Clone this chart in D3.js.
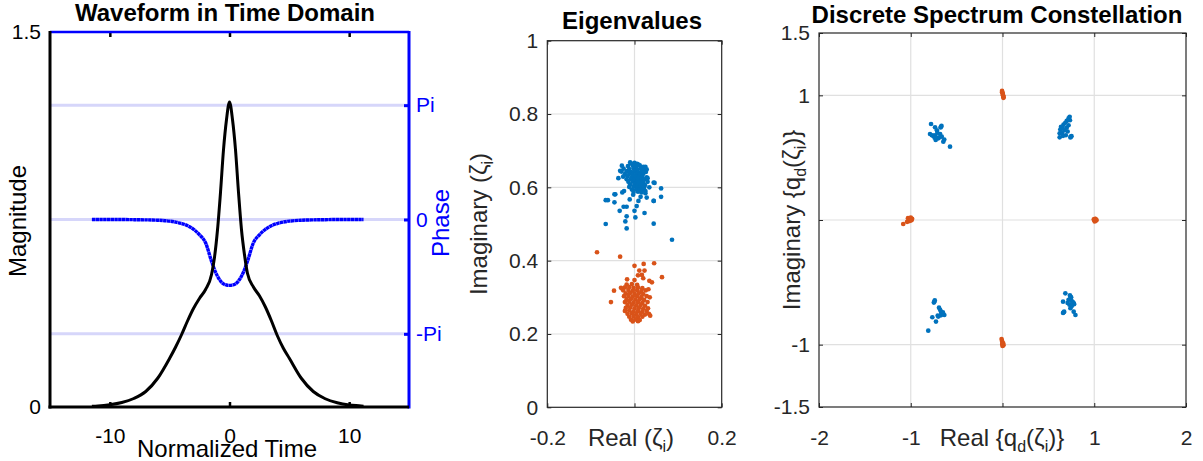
<!DOCTYPE html>
<html><head><meta charset="utf-8">
<script src="https://cdn.jsdelivr.net/npm/d3@7"></script>
<style>
body{margin:0;background:#fff;}
svg{display:block;font-family:"Liberation Sans",Arial,sans-serif;}
</style></head><body>
<script>
// ---------- Panel 1 data ----------
const timeT = [-11.5,-11,-10,-9,-8,-7,-6,-5,-4.5,-4,-3.5,-3,-2.5,-2,-1.5,-1.25,-1,-0.75,-0.5,-0.25,0,0.25,0.5,0.75,1,1.25,1.5,2,2.5,3,3.5,4,4.5,5,6,7,8,9,10,11,11.2];
const magnitude = [0.003,0.004,0.009,0.018,0.034,0.062,0.115,0.195,0.24,0.29,0.345,0.395,0.435,0.47,0.53,0.6,0.71,0.86,1.03,1.15,1.22,1.15,1.03,0.86,0.71,0.61,0.535,0.48,0.445,0.40,0.345,0.285,0.235,0.195,0.115,0.062,0.033,0.017,0.008,0.004,0.003];
const phase = [0,0,0,0,-0.005,-0.01,-0.02,-0.045,-0.07,-0.11,-0.17,-0.27,-0.42,-0.64,-1.15,-1.38,-1.56,-1.69,-1.77,-1.80,-1.81,-1.80,-1.77,-1.69,-1.56,-1.38,-1.15,-0.64,-0.42,-0.27,-0.17,-0.11,-0.07,-0.045,-0.02,-0.01,-0.005,0,0,0,0];
const timeTicks = [-10,0,10];
const magTicks = [0,1.5];
const phaseTicks = [Math.PI,0,-Math.PI];
const phaseTickLabels = ["Pi","0","-Pi"];

// ---------- Panel 2 data (eigenvalues: [real, imag]) ----------
const eigBlue = [
[-0.008,0.665],[0.000,0.667],[0.006,0.664],
[-0.015,0.658],[-0.004,0.659],[0.004,0.657],[0.012,0.660],[0.020,0.656],
[-0.025,0.651],[-0.012,0.650],[-0.002,0.652],[0.006,0.649],[0.014,0.651],[0.022,0.648],
[-0.030,0.643],[-0.018,0.644],[-0.008,0.642],[0.000,0.644],[0.008,0.641],[0.016,0.643],[0.026,0.642],
[-0.022,0.636],[-0.012,0.637],[-0.004,0.635],[0.004,0.636],[0.012,0.634],[0.020,0.637],
[-0.026,0.629],[-0.016,0.630],[-0.006,0.628],[0.002,0.630],[0.010,0.628],[0.018,0.629],[0.028,0.627],
[-0.018,0.622],[-0.008,0.623],[0.000,0.621],[0.008,0.622],[0.016,0.620],[0.024,0.622],
[-0.014,0.615],[-0.004,0.616],[0.004,0.614],[0.012,0.615],[0.020,0.613],[0.030,0.615],
[-0.010,0.608],[0.000,0.609],[0.008,0.607],[0.016,0.608],[0.024,0.606],
[-0.012,0.601],[-0.002,0.602],[0.006,0.600],[0.014,0.601],[0.022,0.599],
[-0.006,0.594],[0.004,0.595],[0.012,0.593],[0.020,0.594],
[-0.002,0.587],[0.008,0.588],[0.016,0.586],
[-0.066,0.500],[0.086,0.457],[0.044,0.501],[-0.018,0.488],[-0.021,0.507],[-0.018,0.521],
[0.002,0.518],[0.023,0.530],[-0.034,0.536],[-0.061,0.565],[-0.046,0.559],[-0.044,0.581],
[-0.028,0.586],[-0.025,0.547],[-0.018,0.547],[-0.011,0.567],[0.000,0.536],[0.005,0.549],
[0.009,0.563],[0.014,0.574],[0.028,0.572],[0.044,0.563],[0.061,0.574],[0.061,0.597],
[0.046,0.612],[0.034,0.600],[0.025,0.590],[0.030,0.625],[0.028,0.649],[0.025,0.656],
[-0.029,0.659],[-0.033,0.645],[-0.037,0.625],[-0.010,0.668],[0.009,0.662],[-0.024,0.590],
[-0.003,0.580],[0.025,0.584],[-0.066,0.565],[-0.046,0.581],[0.044,0.613],[0.044,0.563]
];
const eigOrange = [
[-0.018,0.335],[-0.006,0.336],[0.006,0.334],
[-0.022,0.327],[-0.012,0.328],[-0.002,0.326],[0.008,0.327],[0.018,0.325],
[-0.026,0.319],[-0.014,0.320],[-0.004,0.318],[0.006,0.319],[0.016,0.317],[0.026,0.319],
[-0.020,0.311],[-0.010,0.312],[0.000,0.310],[0.010,0.311],[0.020,0.309],
[-0.024,0.303],[-0.014,0.304],[-0.004,0.302],[0.006,0.303],[0.016,0.301],[0.028,0.303],
[-0.018,0.295],[-0.008,0.296],[0.002,0.294],[0.012,0.295],[0.022,0.293],
[-0.022,0.287],[-0.012,0.288],[-0.002,0.286],[0.008,0.287],[0.018,0.285],[0.030,0.287],
[-0.016,0.279],[-0.006,0.280],[0.004,0.278],[0.014,0.279],[0.024,0.277],
[-0.020,0.271],[-0.010,0.272],[0.000,0.270],[0.010,0.271],[0.020,0.269],
[-0.022,0.263],[-0.012,0.264],[-0.002,0.262],[0.008,0.263],[0.018,0.261],[0.028,0.263],
[-0.016,0.255],[-0.006,0.256],[0.004,0.254],[0.014,0.255],[0.024,0.253],
[-0.012,0.247],[-0.002,0.248],[0.008,0.246],[0.018,0.247],
[-0.008,0.239],[0.002,0.240],[0.012,0.238],
[-0.004,0.234],[0.008,0.235],
[-0.086,0.423],[-0.033,0.411],[0.000,0.386],[0.021,0.391],[0.045,0.393],[0.011,0.373],
[0.023,0.373],[0.017,0.361],[0.008,0.360],[0.020,0.352],[0.063,0.355],[0.034,0.345],
[0.040,0.341],[0.032,0.322],[-0.047,0.318],[-0.054,0.287],[-0.017,0.349],[0.000,0.347],
[-0.031,0.326],[0.031,0.270],[0.035,0.300],[0.033,0.255],[0.036,0.250]
];
const eigXTicks = [-0.2,0,0.2];
const eigXTickLabels = ["-0.2","","0.2"];
const eigYTicks = [0,0.2,0.4,0.6,0.8,1];
const eigYTickLabels = ["0","0.2","0.4","0.6","0.8","1"];

// ---------- Panel 3 data (constellation: [real, imag]) ----------
const constBlue = [
[-0.779,0.770],[-0.735,0.743],[-0.670,0.748],[-0.665,0.755],[-0.675,0.742],[-0.715,0.720],[-0.790,0.690],[-0.754,0.674],[-0.735,0.680],[-0.700,0.655],[-0.728,0.642],[-0.662,0.668],[-0.645,0.628],[-0.635,0.645],[-0.572,0.588],[-0.770,0.680],[-0.710,0.700],[-0.695,0.660],[-0.680,0.690],[-0.740,0.660],
[0.732,0.828],[0.720,0.815],[0.700,0.795],[0.685,0.780],[0.665,0.765],[0.638,0.748],[0.630,0.725],[0.623,0.695],[0.623,0.663],[0.650,0.700],[0.675,0.720],[0.700,0.740],[0.720,0.760],[0.735,0.800],[0.745,0.668],[0.752,0.672],[0.740,0.662],[0.690,0.680],[0.660,0.675],[0.655,0.740],[0.710,0.710],
[-0.743,-0.655],[-0.738,-0.645],[-0.748,-0.662],[-0.692,-0.703],[-0.680,-0.720],[-0.662,-0.748],[-0.706,-0.767],[-0.700,-0.775],[-0.634,-0.762],[-0.650,-0.740],[-0.672,-0.765],[-0.765,-0.780],[-0.725,-0.815],[-0.809,-0.888],[-0.670,-0.735],[-0.655,-0.755],
[0.685,-0.588],[0.740,-0.615],[0.735,-0.605],[0.748,-0.620],[0.660,-0.655],[0.776,-0.668],[0.780,-0.675],[0.770,-0.660],[0.667,-0.740],[0.660,-0.745],[0.672,-0.735],[0.740,-0.708],[0.776,-0.735],[0.795,-0.762],[0.720,-0.640],[0.755,-0.650],[0.730,-0.680],[0.755,-0.690],[0.710,-0.665]
];
const constOrange = [
[0.000,1.020],[-0.005,1.035],[0.003,1.010],[0.008,0.995],[0.012,0.985],[0.005,1.000],[-0.004,1.025],[0.010,0.980],
[-1.030,0.015],[-1.010,0.005],[-0.990,0.000],[-1.000,0.020],[-1.020,-0.010],[-0.985,0.010],[-1.040,-0.015],[-1.082,-0.032],[-1.000,-0.005],
[1.000,0.000],[1.010,0.010],[1.020,-0.005],[1.005,-0.012],[1.015,0.008],[0.995,0.005],[1.025,0.000],
[-0.010,-0.955],[-0.005,-0.970],[0.000,-0.985],[0.005,-1.000],[0.000,-1.010],[0.010,-1.005],[0.008,-0.990],[-0.003,-0.995]
];
const conXTicks = [-2,-1,0,1,2];
const conXTickLabels = ["-2","-1","","1","2"];
const conYTicks = [-1.5,-1,0,1,1.5];
const conYTickLabels = ["-1.5","-1","","1","1.5"];

const BLUE = "#0072BD", ORANGE = "#D95319", AX = "#262626", GRID = "#e0e0e0";
const TICKFS = 21, LABFS = 24, DOT = 2.35;

const svg = d3.select("body").append("svg").attr("width",1203).attr("height",461);
svg.append("rect").attr("width",1203).attr("height",461).attr("fill","#fff");

function styleAxis(g, color){
  g.select(".domain").remove();
  g.selectAll(".tick line").attr("stroke",color);
  g.selectAll(".tick text").attr("fill",color).attr("font-size",TICKFS).attr("font-family","Liberation Sans, Arial, sans-serif");
}

// ================= Panel 1 =================
{
  const x = d3.scaleLinear().domain([-15,15]).range([50,409]);
  const yM = d3.scaleLinear().domain([0,1.5]).range([407,32]);
  const yP = d3.scaleLinear().domain([-1.64*Math.PI,1.64*Math.PI]).range([407,32]);
  const g = svg.append("g");

  g.selectAll("line.pg").data(phaseTicks).join("line")
    .attr("x1",x.range()[0]).attr("x2",x.range()[1])
    .attr("y1",d=>yP(d)).attr("y2",d=>yP(d))
    .attr("stroke","#d6d6fa").attr("stroke-width",3);

  const pts = timeT.map((t,i)=>({t, m:magnitude[i], p:phase[i]}));
  g.append("path").datum(pts)
    .attr("d", d3.line().x(d=>x(d.t)).y(d=>yP(d.p)).curve(d3.curveMonotoneX))
    .attr("fill","none").attr("stroke","#0000ff").attr("stroke-width",3.4)
    .attr("stroke-dasharray","3.4,0.35");
  g.append("path").datum(pts)
    .attr("d", d3.line().x(d=>x(d.t)).y(d=>yM(d.m)).curve(d3.curveMonotoneX))
    .attr("fill","none").attr("stroke","#000").attr("stroke-width",3);

  const bx = g.append("g").attr("transform","translate(0,407)")
    .call(d3.axisBottom(x).tickValues(timeTicks).tickSize(-5).tickPadding(21).tickFormat(d=>String(d)));
  styleAxis(bx,"#000"); bx.selectAll(".tick line").attr("stroke-width",2.5);
  const tx = g.append("g").attr("transform","translate(0,32)")
    .call(d3.axisTop(x).tickValues(timeTicks).tickSize(-5).tickFormat(""));
  styleAxis(tx,"#000"); tx.selectAll(".tick line").attr("stroke-width",2.5);
  const ly = g.append("g").attr("transform","translate(50,0)")
    .call(d3.axisLeft(yM).tickValues(magTicks).tickSize(0).tickPadding(9).tickFormat(d=>String(d)));
  styleAxis(ly,"#000");
  const ry = g.append("g").attr("transform","translate(409,0)")
    .call(d3.axisRight(yP).tickValues(phaseTicks).tickSize(-5).tickPadding(7).tickFormat((d,i)=>phaseTickLabels[i]));
  styleAxis(ry,"#0000ff"); ry.selectAll(".tick line").attr("stroke-width",3);

  g.append("line").attr("x1",50).attr("x2",409).attr("y1",32).attr("y2",32).attr("stroke","#0000ff").attr("stroke-width",2.5);
  g.append("line").attr("x1",409).attr("x2",409).attr("y1",31).attr("y2",408.5).attr("stroke","#0000ff").attr("stroke-width",3);
  g.append("line").attr("x1",50).attr("x2",50).attr("y1",31).attr("y2",408.5).attr("stroke","#000").attr("stroke-width",3);
  g.append("line").attr("x1",48.5).attr("x2",409).attr("y1",407).attr("y2",407).attr("stroke","#000").attr("stroke-width",3);

  g.append("text").attr("x",225).attr("y",21).attr("text-anchor","middle")
    .attr("font-size",LABFS).attr("font-weight","bold").attr("fill","#000").text("Waveform in Time Domain");
  g.append("text").attr("x",227).attr("y",457).attr("text-anchor","middle")
    .attr("font-size",LABFS).attr("fill","#000").text("Normalized Time");
  g.append("text").attr("transform","translate(26,221) rotate(-90)").attr("text-anchor","middle")
    .attr("font-size",LABFS).attr("fill","#000").text("Magnitude");
  g.append("text").attr("transform","translate(449,223) rotate(-90)").attr("text-anchor","middle")
    .attr("font-size",LABFS).attr("fill","#0000ff").text("Phase");
}

function boxGrid(g, x, y, xt, yt){
  const [x0,x1] = x.range(), [y0,y1] = y.range();
  g.selectAll("line.gx").data(xt.filter(v=>v>x.domain()[0]&&v<x.domain()[1])).join("line")
    .attr("x1",d=>x(d)).attr("x2",d=>x(d)).attr("y1",y1).attr("y2",y0).attr("stroke",GRID).attr("stroke-width",1.2);
  g.selectAll("line.gy").data(yt.filter(v=>v>y.domain()[0]&&v<y.domain()[1])).join("line")
    .attr("x1",x0).attr("x2",x1).attr("y1",d=>y(d)).attr("y2",d=>y(d)).attr("stroke",GRID).attr("stroke-width",1.2);
}
function boxFrame(g, x, y, xt, xl, yt, yl){
  const [x0,x1] = x.range(), [y0,y1] = y.range();
  const b = g.append("g").attr("transform",`translate(0,${y0})`)
    .call(d3.axisBottom(x).tickValues(xt).tickSize(-4).tickPadding(23).tickFormat((d,i)=>xl[i]));
  styleAxis(b,AX);
  const t = g.append("g").attr("transform",`translate(0,${y1})`)
    .call(d3.axisTop(x).tickValues(xt).tickSize(-4).tickFormat(""));
  styleAxis(t,AX);
  const l = g.append("g").attr("transform",`translate(${x0},0)`)
    .call(d3.axisLeft(y).tickValues(yt).tickSize(-4).tickPadding(9).tickFormat((d,i)=>yl[i]));
  styleAxis(l,AX);
  const r = g.append("g").attr("transform",`translate(${x1},0)`)
    .call(d3.axisRight(y).tickValues(yt).tickSize(-4).tickFormat(""));
  styleAxis(r,AX);
  g.append("rect").attr("x",x0).attr("y",y1).attr("width",x1-x0).attr("height",y0-y1)
    .attr("fill","none").attr("stroke",AX).attr("stroke-width",1.2);
}

// ================= Panel 2 =================
{
  const x = d3.scaleLinear().domain([-0.2,0.2]).range([547.3,721.7]);
  const y = d3.scaleLinear().domain([0,1]).range([407.3,40.7]);
  const g = svg.append("g");
  boxGrid(g,x,y,eigXTicks,eigYTicks);
  g.selectAll("circle.b").data(eigBlue).join("circle").attr("cx",d=>x(d[0])).attr("cy",d=>y(d[1])).attr("r",DOT).attr("fill",BLUE);
  g.selectAll("circle.o").data(eigOrange).join("circle").attr("cx",d=>x(d[0])).attr("cy",d=>y(d[1])).attr("r",DOT).attr("fill",ORANGE);
  boxFrame(g,x,y,eigXTicks,eigXTickLabels,eigYTicks,eigYTickLabels);

  g.append("text").attr("x",632).attr("y",29).attr("text-anchor","middle")
    .attr("font-size",LABFS).attr("font-weight","bold").attr("fill","#000").text("Eigenvalues");
  const xl = g.append("text").attr("x",631).attr("y",446).attr("text-anchor","middle").attr("font-size",LABFS).attr("fill",AX);
  xl.append("tspan").text("Real (ζ");
  xl.append("tspan").attr("dy",6).attr("font-size",16).text("i");
  xl.append("tspan").attr("dy",-6).text(")");
  const yl = g.append("text").attr("transform","translate(487,224) rotate(-90)").attr("text-anchor","middle").attr("font-size",LABFS).attr("fill",AX);
  yl.append("tspan").text("Imaginary (ζ");
  yl.append("tspan").attr("dy",6).attr("font-size",16).text("i");
  yl.append("tspan").attr("dy",-6).text(")");
}

// ================= Panel 3 =================
{
  const x = d3.scaleLinear().domain([-2,2]).range([819,1186]);
  const y = d3.scaleLinear().domain([-1.5,1.5]).range([407,33]);
  const g = svg.append("g");
  boxGrid(g,x,y,conXTicks,conYTicks);
  g.selectAll("circle.b").data(constBlue).join("circle").attr("cx",d=>x(d[0])).attr("cy",d=>y(d[1])).attr("r",DOT).attr("fill",BLUE);
  g.selectAll("circle.o").data(constOrange).join("circle").attr("cx",d=>x(d[0])).attr("cy",d=>y(d[1])).attr("r",DOT).attr("fill",ORANGE);
  boxFrame(g,x,y,conXTicks,conXTickLabels,conYTicks,conYTickLabels);

  g.append("text").attr("x",997).attr("y",23).attr("text-anchor","middle")
    .attr("font-size",LABFS).attr("font-weight","bold").attr("fill","#000").text("Discrete Spectrum Constellation");
  const xl = g.append("text").attr("x",1002).attr("y",446).attr("text-anchor","middle").attr("font-size",LABFS).attr("fill",AX);
  xl.append("tspan").text("Real {q");
  xl.append("tspan").attr("dy",6).attr("font-size",16).text("d");
  xl.append("tspan").attr("dy",-6).text("(ζ");
  xl.append("tspan").attr("dy",6).attr("font-size",16).text("i");
  xl.append("tspan").attr("dy",-6).text(")}");
  const yl = g.append("text").attr("transform","translate(800,220) rotate(-90)").attr("text-anchor","middle").attr("font-size",LABFS).attr("fill",AX);
  yl.append("tspan").text("Imaginary {q");
  yl.append("tspan").attr("dy",6).attr("font-size",16).text("d");
  yl.append("tspan").attr("dy",-6).text("(ζ");
  yl.append("tspan").attr("dy",6).attr("font-size",16).text("i");
  yl.append("tspan").attr("dy",-6).text(")}");
}
</script>
</body></html>
